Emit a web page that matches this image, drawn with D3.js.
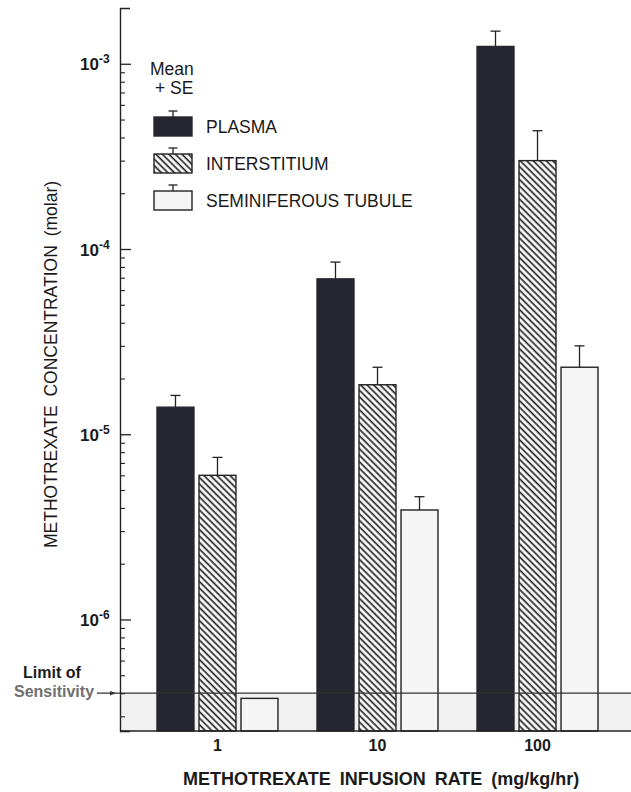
<!DOCTYPE html>
<html>
<head>
<meta charset="utf-8">
<script src="https://cdn.jsdelivr.net/npm/d3@7"></script>
<style>
  body { margin: 0; background: #fff; }
  text { font-family: "Liberation Sans", Arial, Helvetica, sans-serif; fill: #1a1a1a; }
</style>
</head>
<body>
<script>
// data (molar)
var categories = ["1", "10", "100"];
var seriesNames = ["PLASMA", "INTERSTITIUM", "SEMINIFEROUS TUBULE"];
var plasmaMean = [1.40e-5, 6.9e-5, 1.24e-3];
var plasmaSE = [0.22e-5, 1.6e-5, 0.26e-3];
var interMean = [6.0e-6, 1.85e-5, 3.0e-4];
var interSE = [1.5e-6, 0.45e-5, 1.35e-4];
var tubuleMean = [3.75e-7, 3.9e-6, 2.3e-5];
var tubuleSE = [0, 0.7e-6, 0.7e-5];
var tickExponents = [-6, -5, -4, -3];
var limitOfSensitivity = 4.0e-7;

var W = 631, H = 792;
var axisX = 120, axisTop = 8, axisBottom = 731;

var svg = d3.select("body").append("svg")
    .attr("width", W)
    .attr("height", H);

// hatch pattern for interstitium
var defs = svg.append("defs");
defs.append("pattern")
    .attr("id", "hatch")
    .attr("patternUnits", "userSpaceOnUse")
    .attr("width", 4.6).attr("height", 4.6)
    .attr("patternTransform", "rotate(-45)")
  .call(function(p) {
    p.append("rect").attr("width", 4.6).attr("height", 4.6).attr("fill", "#fff");
    p.append("line").attr("x1", 1.2).attr("y1", 0).attr("x2", 1.2).attr("y2", 4.6)
      .attr("stroke", "#222").attr("stroke-width", 1.7);
  });

var y = d3.scaleLog()
    .domain([2.5e-7, 2e-3])
    .range([axisBottom, axisTop]);

var x0 = d3.scaleBand()
    .domain(categories)
    .range([157, 598])
    .paddingInner(0.244);

var x1 = d3.scaleBand()
    .domain(seriesNames)
    .range([0, x0.bandwidth()])
    .paddingInner(0.12);

var fills = { "PLASMA": "#262630", "INTERSTITIUM": "url(#hatch)", "SEMINIFEROUS TUBULE": "#f5f5f5" };

// table built from the arrays
var rows = [];
categories.forEach(function(c, i) {
  rows.push({ cat: c, s: "PLASMA", v: plasmaMean[i], se: plasmaSE[i] });
  rows.push({ cat: c, s: "INTERSTITIUM", v: interMean[i], se: interSE[i] });
  rows.push({ cat: c, s: "SEMINIFEROUS TUBULE", v: tubuleMean[i], se: tubuleSE[i] });
});

// shaded zone below limit of sensitivity
svg.append("rect")
    .attr("x", axisX).attr("y", y(limitOfSensitivity))
    .attr("width", W - axisX).attr("height", axisBottom - y(limitOfSensitivity))
    .attr("fill", "#f1f1f1");

// error bars
var errs = svg.append("g").selectAll("g").data(rows.filter(function(d) { return d.se > 0; }))
  .enter().append("g")
    .attr("stroke", "#222").attr("stroke-width", 1.3);
errs.append("line")
    .attr("x1", function(d) { return x0(d.cat) + x1(d.s) + x1.bandwidth() / 2; })
    .attr("x2", function(d) { return x0(d.cat) + x1(d.s) + x1.bandwidth() / 2; })
    .attr("y1", function(d) { return y(d.v); })
    .attr("y2", function(d) { return y(d.v + d.se); });
errs.append("line")
    .attr("x1", function(d) { return x0(d.cat) + x1(d.s) + x1.bandwidth() / 2 - 5; })
    .attr("x2", function(d) { return x0(d.cat) + x1(d.s) + x1.bandwidth() / 2 + 5; })
    .attr("y1", function(d) { return y(d.v + d.se); })
    .attr("y2", function(d) { return y(d.v + d.se); });

// bars
svg.append("g").selectAll("rect").data(rows)
  .enter().append("rect")
    .attr("x", function(d) { return x0(d.cat) + x1(d.s); })
    .attr("width", x1.bandwidth())
    .attr("y", function(d) { return y(d.v); })
    .attr("height", function(d) { return axisBottom - y(d.v); })
    .attr("fill", function(d) { return fills[d.s]; })
    .attr("stroke", function(d) { return d.s == "PLASMA" ? "#262630" : "#222"; })
    .attr("stroke-width", 1.4);

// limit of sensitivity line
svg.append("line")
    .attr("x1", 97).attr("x2", W)
    .attr("y1", y(limitOfSensitivity)).attr("y2", y(limitOfSensitivity))
    .attr("stroke", "#333").attr("stroke-width", 1.2);
svg.append("path")
    .attr("d", "M" + 110 + "," + (y(limitOfSensitivity) - 2.2) + "L" + 116 + "," + y(limitOfSensitivity) + "L" + 110 + "," + (y(limitOfSensitivity) + 2.2) + "Z")
    .attr("fill", "#333");
svg.append("text")
    .attr("x", 23).attr("y", 678)
    .attr("font-size", 16).attr("font-weight", "bold")
    .text("Limit of");
svg.append("text")
    .attr("x", 14).attr("y", 697)
    .attr("font-size", 16).attr("font-weight", "bold")
    .style("fill", "#707070")
    .text("Sensitivity");

// y axis: minor ticks, then major ticks with labels
var minorTicks = [];
for (var e = -7; e <= -3; e++) {
  for (var m = 2; m <= 9; m++) {
    var v = m * Math.pow(10, e);
    if (v >= y.domain()[0] && v < y.domain()[1]) minorTicks.push(v);
  }
}
svg.append("g")
    .attr("transform", "translate(" + axisX + ",0)")
    .call(d3.axisLeft(y).tickValues(minorTicks).tickSize(-5).tickSizeOuter(-10).tickFormat(""))
    .call(function(g) {
      g.select(".domain").attr("stroke", "#222").attr("stroke-width", 1.4);
      g.selectAll(".tick line").attr("stroke", "#222").attr("stroke-width", 1.1);
    });

var majorTicks = tickExponents.map(function(e) { return Math.pow(10, e); });
var yMajor = svg.append("g")
    .attr("transform", "translate(" + axisX + ",0)")
    .call(d3.axisLeft(y).tickValues(majorTicks).tickSize(-11).tickFormat(""));
yMajor.select(".domain").remove();
yMajor.selectAll(".tick line").attr("stroke", "#222").attr("stroke-width", 1.3);
yMajor.selectAll(".tick text").remove();
yMajor.selectAll(".tick").append("text")
    .attr("x", -40).attr("y", 6)
    .attr("text-anchor", "start")
    .style("font-size", "17px").style("font-weight", "bold")
    .style("fill", "#1a1a1a")
    .call(function(t) {
      t.append("tspan").text("10");
      t.append("tspan").attr("dy", -7).style("font-size", "12px")
        .text(function(d, i) { return String(tickExponents[i]); });
    });

// x axis baseline and labels
svg.append("line")
    .attr("x1", axisX).attr("x2", W)
    .attr("y1", axisBottom).attr("y2", axisBottom)
    .attr("stroke", "#222").attr("stroke-width", 1.4);

var xAxis = svg.append("g")
    .attr("transform", "translate(0," + axisBottom + ")")
    .call(d3.axisBottom(x0).tickSize(0).tickPadding(9));
xAxis.select(".domain").remove();
xAxis.selectAll(".tick text")
    .style("font-size", "16px").style("font-weight", "bold")
    .style("font-family", "'Liberation Sans', Arial, sans-serif")
    .style("fill", "#1a1a1a");

// axis titles
svg.append("text")
    .attr("x", 183).attr("y", 785)
    .style("font-size", "18px").style("font-weight", "bold")
    .style("word-spacing", "4px")
    .text("METHOTREXATE INFUSION RATE (mg/kg/hr)");

svg.append("text")
    .attr("transform", "translate(57,548) rotate(-90)")
    .style("font-size", "17.5px")
    .style("word-spacing", "4px")
    .text("METHOTREXATE CONCENTRATION (molar)");

// legend
var legend = svg.append("g");
legend.append("text").attr("x", 150).attr("y", 75).attr("font-size", 17.5).text("Mean");
legend.append("text").attr("x", 155).attr("y", 94).attr("font-size", 17.5).text("+ SE");

var legendTop = [117, 154, 191];
var item = legend.selectAll(".item").data(seriesNames)
  .enter().append("g")
    .attr("class", "item")
    .attr("transform", function(d, i) { return "translate(154," + legendTop[i] + ")"; });
item.append("line").attr("x1", 19).attr("x2", 19).attr("y1", 0).attr("y2", -6)
    .attr("stroke", "#222").attr("stroke-width", 1.3);
item.append("line").attr("x1", 14.5).attr("x2", 23.5).attr("y1", -6).attr("y2", -6)
    .attr("stroke", "#222").attr("stroke-width", 1.3);
item.append("rect")
    .attr("width", 38).attr("height", 19)
    .attr("fill", function(d) { return fills[d]; })
    .attr("stroke", function(d) { return d == "PLASMA" ? "#262630" : "#222"; })
    .attr("stroke-width", 1.4);
item.append("text")
    .attr("x", 52).attr("y", 16)
    .attr("font-size", 17.5)
    .text(function(d) { return d; });
</script>
</body>
</html>
